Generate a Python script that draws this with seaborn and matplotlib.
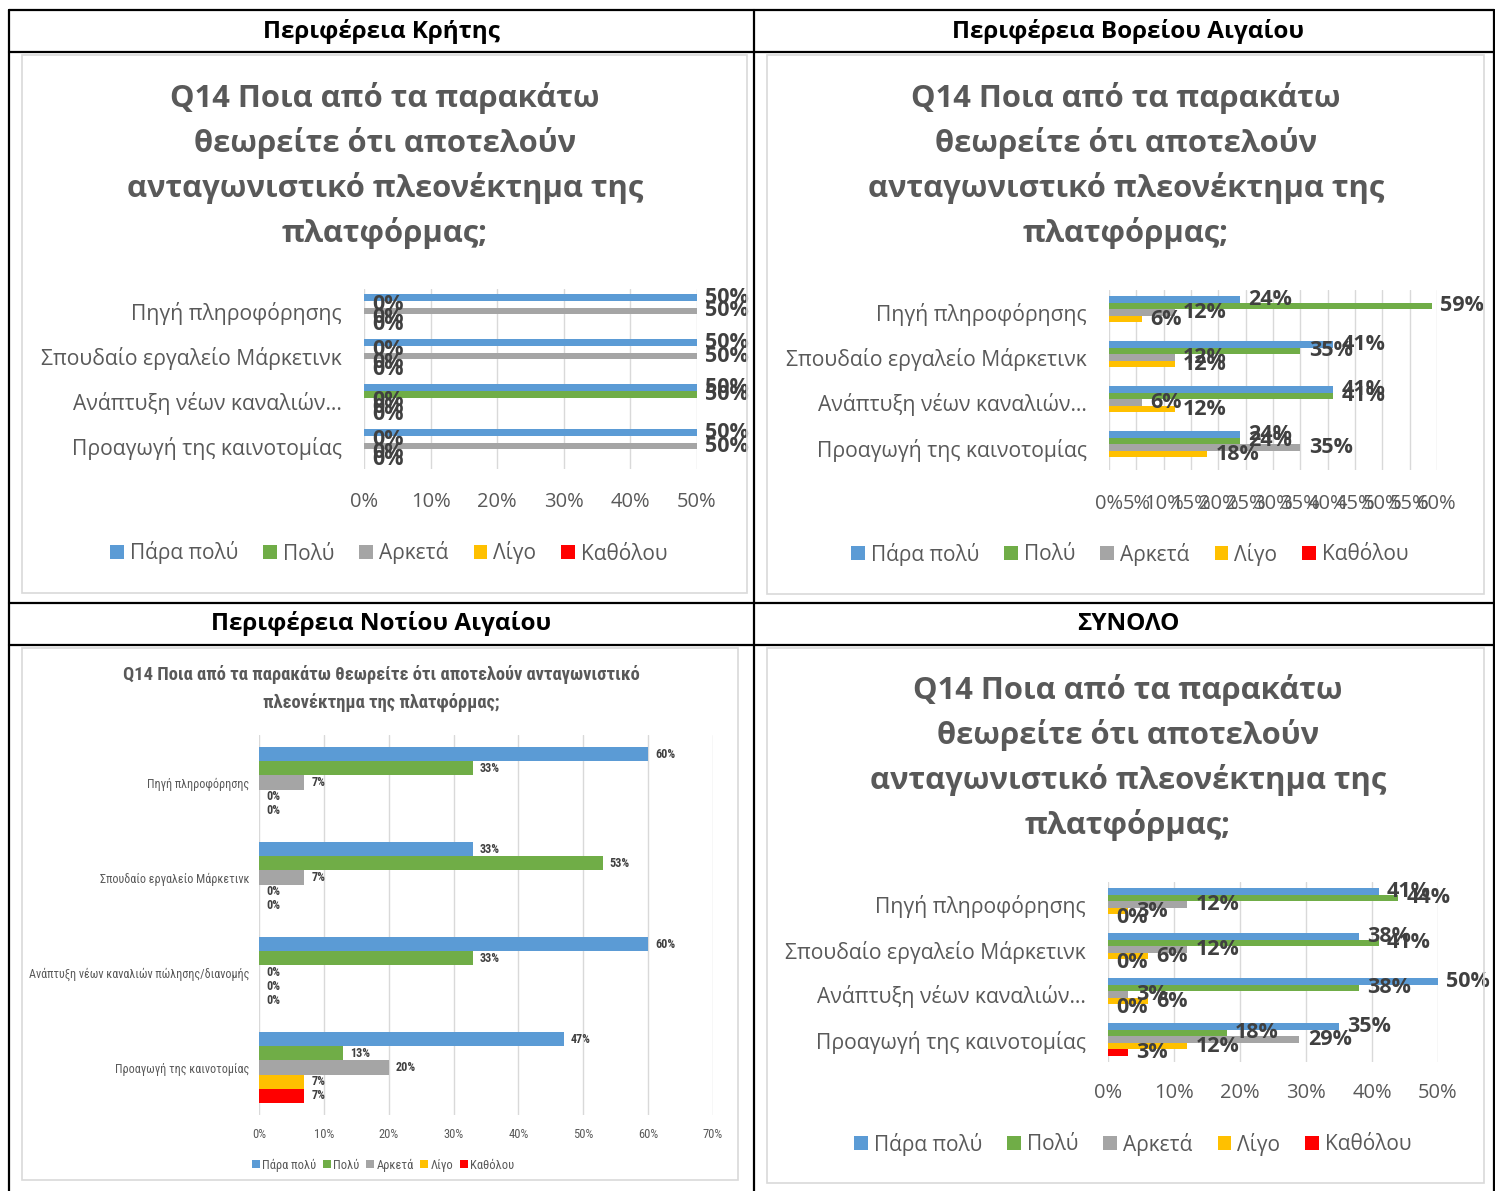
import numpy as np
import pandas as pd
import matplotlib
matplotlib.use("Agg")
import matplotlib.pyplot as plt
import seaborn as sns
from matplotlib.patches import Rectangle, Patch
from matplotlib.lines import Line2D
from matplotlib import font_manager

# ---------------- data ----------------
categories = ["Πηγή πληροφόρησης", "Σπουδαίο εργαλείο Μάρκετινκ",
              "Ανάπτυξη νέων καναλιών πώλησης/διανομής", "Προαγωγή της καινοτομίας"]
categories_short = ["Πηγή πληροφόρησης", "Σπουδαίο εργαλείο Μάρκετινκ",
                    "Ανάπτυξη νέων καναλιών…", "Προαγωγή της καινοτομίας"]
levels = ["Πάρα πολύ", "Πολύ", "Αρκετά", "Λίγο", "Καθόλου"]
level_colors = ["#5B9BD5", "#70AD47", "#A5A5A5", "#FFC000", "#FF0000"]

# rows = levels (Πάρα πολύ, Πολύ, Αρκετά, Λίγο, Καθόλου), columns = categories (%)
kriti = [[50, 50, 50, 50],
         [0, 0, 50, 0],
         [50, 50, 0, 50],
         [0, 0, 0, 0],
         [0, 0, 0, 0]]
voreio_aigaio = [[24, 41, 41, 24],
                 [59, 35, 41, 24],
                 [12, 12, 6, 35],
                 [6, 12, 12, 18],
                 [None, None, None, None]]
notio_aigaio = [[60, 33, 60, 47],
                [33, 53, 33, 13],
                [7, 7, 0, 20],
                [0, 0, 0, 7],
                [0, 0, 0, 7]]
synolo = [[41, 38, 50, 35],
          [44, 41, 38, 18],
          [12, 12, 3, 29],
          [3, 6, 6, 12],
          [0, 0, 0, 3]]

headers = ["Περιφέρεια Κρήτης", "Περιφέρεια Βορείου Αιγαίου",
           "Περιφέρεια Νοτίου Αιγαίου", "ΣΥΝΟΛΟ"]
title_lines = ["Q14 Ποια από τα παρακάτω", "θεωρείτε ότι αποτελούν",
               "ανταγωνιστικό πλεονέκτημα της", "πλατφόρμας;"]
title_small = ["Q14 Ποια από τα παρακάτω θεωρείτε ότι αποτελούν ανταγωνιστικό",
               "πλεονέκτημα της πλατφόρμας;"]

# ---------------- style ----------------
sns.set_theme(style="white")
plt.rcParams["font.family"] = ["Open Sans", "DejaVu Sans"]
names = {f.name for f in font_manager.fontManager.ttflist}
if "Liberation Sans Narrow" in names:
    NARROW = ["Liberation Sans Narrow", "DejaVu Sans"]
    nscale = 1.0
elif "Roboto Condensed" in names:
    NARROW = ["Roboto Condensed", "DejaVu Sans"]
    nscale = 1.0
else:
    NARROW = ["Roboto", "DejaVu Sans"]
    nscale = 0.85
WIDE = ["Open Sans", "DejaVu Sans"]

W, H = 1495, 1191
fig = plt.figure(figsize=(W / 100, H / 100), dpi=100)
fig.patch.set_facecolor("white")

GREY = "#595959"
LABEL = "#404040"


def fx(x):
    return x / W


def fy(y):
    return 1 - y / H


def prect(l, t, r, b):
    return [l / W, 1 - b / H, (r - l) / W, (b - t) / H]


def draw_panel(rect, values, cats, xmax, xstep, fs_tick, fs_cat, fs_val,
               cat_pad, tick_pad, val_pad, family):
    ax = fig.add_axes(rect)
    rows = []
    for lev, vals in zip(levels, values):
        for cat, v in zip(cats, vals):
            rows.append({"cat": cat, "level": lev, "value": 0.0 if v is None else float(v)})
    df = pd.DataFrame(rows)
    sns.barplot(data=df, x="value", y="cat", hue="level", hue_order=levels,
                order=cats, palette=level_colors, orient="h", width=0.74,
                linewidth=0, saturation=1, errorbar=None, legend=False, ax=ax)
    for cont, vals in zip(ax.containers, values):
        labs = []
        for p in cont.patches:
            idx = int(round(p.get_y() + p.get_height() / 2))
            v = vals[idx]
            labs.append("" if v is None else f"{v:.0f}%")
        ax.bar_label(cont, labels=labs, padding=val_pad, fontsize=fs_val,
                     fontweight="bold", color=LABEL, family=family)
    ax.set_xlim(0, xmax)
    xt = np.arange(0, xmax + 0.001, xstep)
    ax.set_xticks(xt)
    ax.set_xticklabels([f"{t:.0f}%" for t in xt], fontsize=fs_tick,
                       color=GREY, family=family)
    ax.set_yticks(range(len(cats)))
    ax.set_yticklabels(cats, fontsize=fs_cat, color=GREY, family=family)
    ax.tick_params(axis="x", length=0, pad=tick_pad)
    ax.tick_params(axis="y", length=0, pad=cat_pad)
    ax.set_xlabel("")
    ax.set_ylabel("")
    ax.xaxis.grid(True, color="#D9D9D9", linewidth=1)
    ax.yaxis.grid(False)
    ax.set_axisbelow(True)
    for s in ax.spines.values():
        s.set_visible(False)
    ax.set_facecolor("none")
    return ax


def legend_at(x, y, fs, family, colsp=1.2, tpad=0.3):
    handles = [Patch(facecolor=c, edgecolor="none") for c in level_colors]
    fig.legend(handles, levels, loc="center", bbox_to_anchor=(fx(x), fy(y)),
               ncol=5, frameon=False, prop={"family": family, "size": fs},
               labelcolor=GREY, handlelength=0.65, handleheight=0.65,
               handletextpad=tpad, columnspacing=colsp, borderaxespad=0)


def frame(l, t, r, b):
    fig.add_artist(Rectangle((fx(l), fy(b)), (r - l) / W, (b - t) / H,
                             transform=fig.transFigure, fill=False,
                             edgecolor="#D9D9D9", linewidth=1.2))


# ---------------- chart frames ----------------
frame(22, 55, 747, 593)
frame(767, 55, 1484, 594)
frame(22, 648, 738, 1180)
frame(767, 648, 1484, 1183)

# ---------------- table lines ----------------
lw = 1.6
for y in [10, 52, 603, 645]:
    fig.add_artist(Line2D([fx(9), fx(1494)], [fy(y), fy(y)], color="black",
                          linewidth=lw, transform=fig.transFigure))
for x in [9, 754, 1494]:
    fig.add_artist(Line2D([fx(x), fx(x)], [fy(10), fy(1191)], color="black",
                          linewidth=lw, transform=fig.transFigure))

# ---------------- headers ----------------
for (x, y), txt in zip([(381, 31), (1128, 31), (381, 624), (1128, 624)], headers):
    fig.text(fx(x), fy(y), txt, ha="center", va="center", fontsize=17.5,
             fontweight="bold", color="black", family=WIDE)

# ---------------- titles ----------------
for cx, ys in [(385, [98, 143, 188, 233]), (1126, [98, 143, 188, 233]),
               (1128, [690, 735, 780, 825])]:
    for y, line in zip(ys, title_lines):
        fig.text(fx(cx), fy(y), line, ha="center", va="center", fontsize=22.3,
                 fontweight="bold", color=GREY, family=WIDE)
for y, line in zip([674, 702], title_small):
    fig.text(fx(381), fy(y), line, ha="center", va="center",
             fontsize=13.3 * nscale, fontweight="bold", color=GREY, family=NARROW)

# ---------------- panels ----------------
draw_panel(prect(364, 288.5, 697, 468.5), kriti, categories_short, 50, 10,
           14.5, 15.2, 15.5, 16, 17, 6, WIDE)
draw_panel(prect(1109, 290, 1437, 470), voreio_aigaio, categories_short, 60, 5,
           14.5, 15.2, 15.5, 16, 17, 6, WIDE)
draw_panel(prect(1108, 882, 1438, 1062), synolo, categories_short, 50, 10,
           14.5, 15.2, 15.5, 16, 15, 6, WIDE)
draw_panel(prect(259, 735, 713, 1115), notio_aigaio, categories, 70, 10,
           9 * nscale, 8.7 * nscale, 8.7 * nscale, 7, 9, 5, NARROW)

# ---------------- legends ----------------
legend_at(389, 553, 15, WIDE)
legend_at(1130, 554, 15, WIDE)
legend_at(1133, 1144, 15, WIDE)
legend_at(383, 1165, 9.0 * nscale, NARROW, colsp=0.5, tpad=0.2)

fig.savefig("out.png", dpi=100, facecolor="white")
